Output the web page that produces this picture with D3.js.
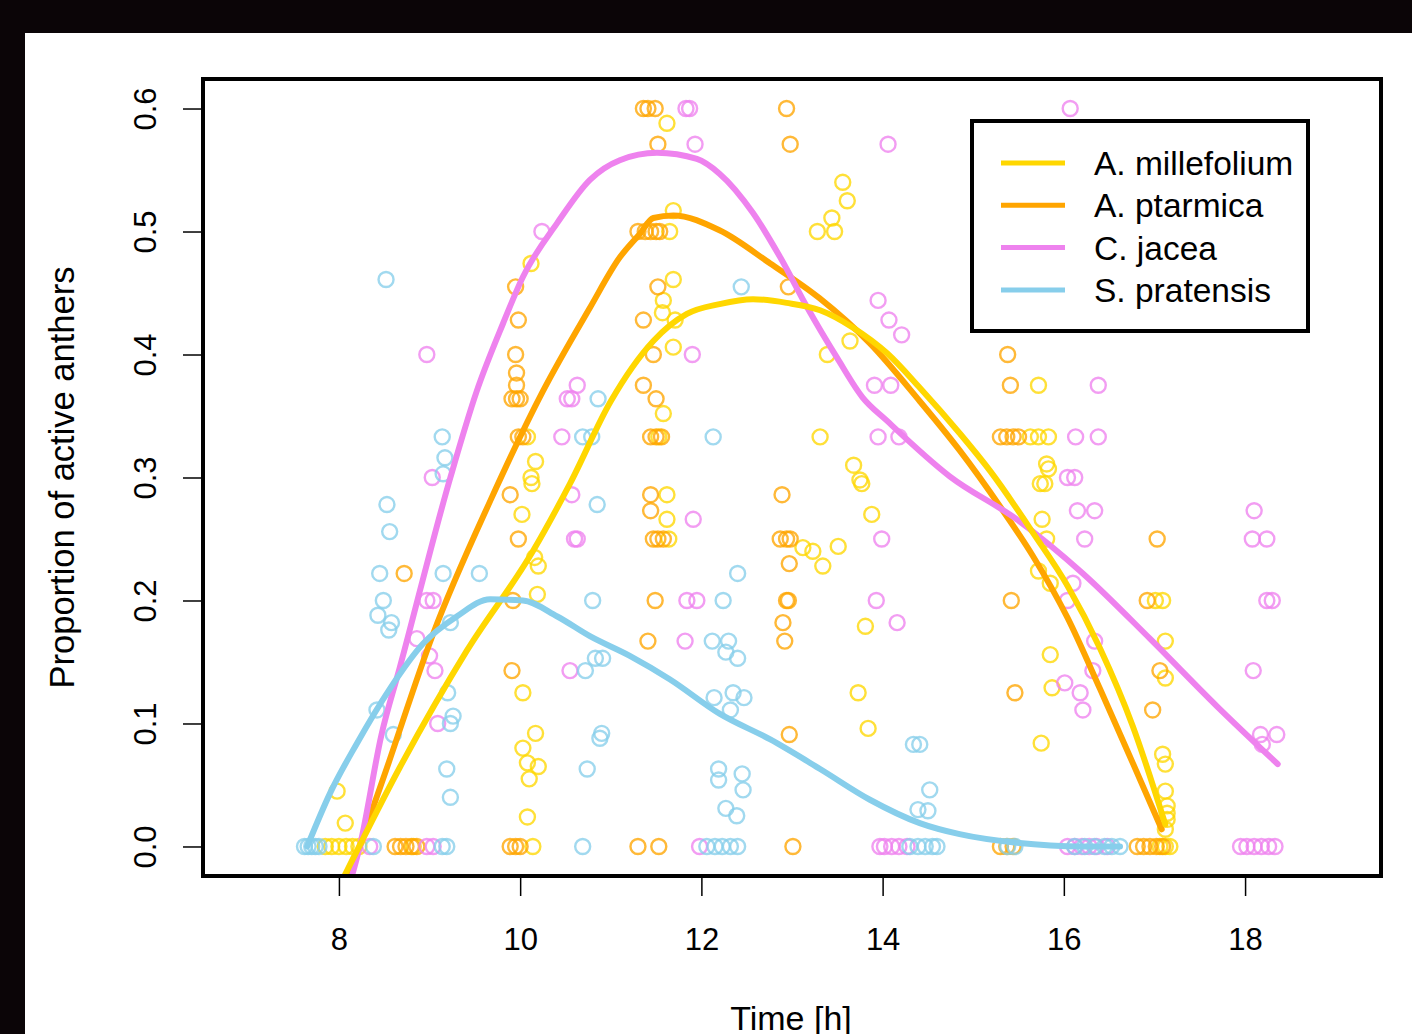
<!DOCTYPE html>
<html>
<head>
<meta charset="utf-8">
<script src="https://cdn.jsdelivr.net/npm/d3@7"></script>
<style>
  html, body { margin: 0; padding: 0; background: #0b0507; }
  svg { display: block; }
  text { font-family: "Liberation Sans", Arial, Helvetica, sans-serif; }
</style>
</head>
<body>
<div id="app"></div>
<script>
// ---- data ----
const species = ["A. millefolium", "A. ptarmica", "C. jacea", "S. pratensis"];
const colors = ["#FFD700", "#FFA500", "#EE82EE", "#87CEEB"];
const xTicks = [8, 10, 12, 14, 16, 18];
const yTicks = [0, 0.1, 0.2, 0.3, 0.4, 0.5, 0.6];

// observed proportions [time, proportion]
const milleFoliumPts = [
  [7.98,0.045],[8.07,0.019],[7.85,0],[7.92,0],[8.00,0],[8.08,0],[8.15,0],[8.22,0],[8.82,0],
  [10.12,0.474],[10.08,0.333],[10.17,0.313],[10.12,0.3],[10.13,0.295],[10.02,0.27],
  [10.16,0.235],[10.20,0.228],[10.19,0.205],[10.03,0.125],[10.17,0.092],[10.03,0.08],
  [10.08,0.068],[10.20,0.065],[10.10,0.055],[10.08,0.024],[10.14,0],
  [11.62,0.588],[11.69,0.517],[11.65,0.5],[11.69,0.461],[11.58,0.444],[11.57,0.434],
  [11.71,0.428],[11.69,0.406],[11.58,0.352],[11.53,0.333],[11.62,0.286],[11.62,0.266],[11.64,0.25],
  [13.56,0.54],[13.61,0.525],[13.44,0.511],[13.28,0.5],[13.47,0.5],[13.64,0.411],[13.39,0.4],
  [13.31,0.333],[13.68,0.31],[13.75,0.298],[13.77,0.295],[13.88,0.27],[13.12,0.243],[13.23,0.24],
  [13.51,0.244],[13.34,0.228],[13.81,0.179],[13.73,0.125],[13.84,0.096],
  [15.72,0.375],[15.63,0.333],[15.72,0.333],[15.83,0.333],[15.81,0.311],[15.83,0.307],
  [15.74,0.295],[15.79,0.295],[15.76,0.266],[15.81,0.25],[15.72,0.224],[15.85,0.214],
  [15.85,0.156],[15.87,0.129],[15.75,0.084],
  [17.01,0.2],[17.09,0.2],[17.12,0.167],[17.12,0.137],[17.09,0.075],[17.12,0.067],[17.12,0.045],
  [17.14,0.033],[17.14,0.027],[17.14,0.022],[17.12,0.014],[17.06,0],[17.12,0],[17.17,0]
];
const ptarmicaPts = [
  [9.95,0.455],[9.98,0.428],[9.95,0.4],[9.96,0.385],[9.96,0.375],[9.91,0.364],[9.96,0.364],
  [10.00,0.364],[9.98,0.333],[10.03,0.333],[9.89,0.286],[9.98,0.25],[8.72,0.222],[9.92,0.2],
  [9.91,0.143],[9.89,0],[9.95,0],[10.00,0],[8.62,0],[8.68,0],[8.74,0],[8.80,0],[8.86,0],
  [11.36,0.6],[11.41,0.6],[11.49,0.6],[11.52,0.571],[12.94,0.6],[12.98,0.571],
  [11.30,0.5],[11.38,0.5],[11.44,0.5],[11.50,0.5],[11.54,0.5],[11.52,0.455],[11.36,0.428],
  [11.47,0.4],[11.36,0.375],[11.50,0.364],[11.44,0.333],[11.50,0.333],[11.56,0.333],
  [11.44,0.286],[11.44,0.273],[11.47,0.25],[11.52,0.25],[11.58,0.25],[11.49,0.2],[11.41,0.167],
  [11.30,0],[11.53,0],
  [12.96,0.455],[12.89,0.286],[12.87,0.25],[12.94,0.25],[12.98,0.25],[12.97,0.23],[12.94,0.2],
  [12.96,0.2],[12.90,0.182],[12.92,0.167],[12.97,0.091],[13.01,0],
  [15.38,0.4],[15.41,0.375],[15.30,0.333],[15.37,0.333],[15.44,0.333],[15.50,0.333],
  [15.42,0.2],[15.46,0.125],[15.30,0],[15.37,0],[15.44,0],
  [17.03,0.25],[16.92,0.2],[17.06,0.143],[16.98,0.111],[16.81,0],[16.88,0],[16.95,0],[17.02,0],[17.09,0]
];
const jaceaPts = [
  [10.24,0.5],[8.97,0.4],[10.63,0.375],[10.52,0.364],[10.57,0.364],[10.46,0.333],[9.03,0.3],
  [10.57,0.286],[10.60,0.25],[10.63,0.25],[8.97,0.2],[9.04,0.2],[8.86,0.169],[9.00,0.155],
  [9.06,0.143],[9.09,0.1],[10.55,0.143],[8.34,0],[8.97,0],[9.04,0],
  [11.83,0.6],[11.87,0.6],[11.93,0.571],[14.06,0.571],[11.90,0.4],[13.95,0.444],[14.07,0.428],
  [14.21,0.416],[13.91,0.375],[14.09,0.375],[13.95,0.333],[14.18,0.333],[11.91,0.266],
  [11.84,0.2],[11.95,0.2],[11.82,0.167],[11.98,0],[13.99,0.25],[13.93,0.2],[14.16,0.182],
  [13.97,0],[14.02,0],[14.10,0],[14.18,0],[14.27,0],
  [16.07,0.6],[16.38,0.375],[16.13,0.333],[16.38,0.333],[16.04,0.3],[16.12,0.3],[16.15,0.273],
  [16.34,0.273],[16.23,0.25],[16.10,0.214],[16.04,0.2],[16.34,0.167],[16.32,0.143],[16.01,0.133],
  [16.18,0.125],[16.21,0.111],[16.04,0],[16.12,0],[16.20,0],[16.28,0],[16.36,0],[16.48,0],
  [18.10,0.273],[18.08,0.25],[18.24,0.25],[18.24,0.2],[18.30,0.2],[18.09,0.143],[18.17,0.091],
  [18.35,0.091],[18.19,0.083],[17.95,0],[18.02,0],[18.10,0],[18.18,0],[18.26,0],[18.33,0]
];
const pratensisPts = [
  [7.62,0],[7.66,0],[7.70,0],[7.74,0],[7.78,0],[8.38,0],[8.52,0.461],[8.53,0.278],[8.56,0.256],
  [8.45,0.222],[8.49,0.2],[8.43,0.188],[8.58,0.182],[8.55,0.176],[8.42,0.111],[8.60,0.091],
  [9.14,0.333],[9.17,0.316],[9.15,0.303],[9.15,0.222],[9.23,0.182],[9.20,0.125],[9.26,0.106],
  [9.23,0.1],[9.19,0.063],[9.23,0.04],[9.14,0],[9.19,0],[9.55,0.222],
  [10.85,0.278],[10.86,0.364],[10.69,0.333],[10.79,0.333],[10.80,0.2],[10.83,0.153],[10.91,0.153],
  [10.72,0.143],[10.90,0.092],[10.88,0.088],[10.74,0.063],[10.69,0],
  [12.44,0.455],[12.13,0.333],[12.40,0.222],[12.24,0.2],[12.12,0.167],[12.30,0.167],[12.27,0.158],
  [12.40,0.153],[12.14,0.121],[12.35,0.125],[12.47,0.121],[12.32,0.111],[12.19,0.063],[12.19,0.054],
  [12.45,0.059],[12.46,0.046],[12.27,0.031],[12.39,0.025],[12.06,0],[12.15,0],[12.23,0],[12.32,0],[12.40,0],
  [14.34,0.083],[14.41,0.083],[14.52,0.046],[14.39,0.03],[14.50,0.029],[14.30,0],[14.39,0],
  [14.47,0],[14.55,0],[14.60,0],[15.38,0],[15.46,0],
  [16.12,0],[16.23,0],[16.34,0],[16.45,0],[16.53,0],[16.62,0]
];

// fitted curves [time, proportion]
const milleFoliumFit = [
  [8.02,-0.03],[8.67,0.064],[9.41,0.159],[10.14,0.24],[10.55,0.295],[11.0,0.362],[11.47,0.411],
  [11.84,0.433],[12.2,0.441],[12.57,0.445],[12.94,0.442],[13.31,0.436],[13.67,0.422],[14.05,0.401],
  [14.41,0.373],[14.85,0.336],[15.19,0.305],[15.66,0.255],[16.04,0.212],[16.4,0.161],[16.76,0.098],
  [17.12,0.018]
];
const ptarmicaFit = [
  [8.10,-0.03],[8.23,0.0],[8.53,0.064],[9.04,0.173],[9.67,0.281],[10.25,0.37],[10.77,0.438],
  [11.1,0.479],[11.32,0.498],[11.47,0.511],[11.69,0.513],[12.2,0.501],[12.76,0.474],[13.3,0.446],
  [13.86,0.409],[14.41,0.362],[14.85,0.322],[15.3,0.276],[15.66,0.236],[16.04,0.186],[16.4,0.128],
  [16.76,0.068],[17.08,0.014]
];
const jaceaFit = [
  [8.12,-0.03],[8.23,0.0],[8.47,0.091],[8.67,0.145],[9.23,0.30],[9.52,0.37],[9.81,0.425],
  [10.03,0.463],[10.41,0.507],[10.77,0.542],[11.1,0.558],[11.51,0.564],[11.95,0.559],[12.2,0.547],
  [12.57,0.515],[12.87,0.479],[13.17,0.438],[13.5,0.397],[13.78,0.365],[14.05,0.346],[14.74,0.301],
  [15.48,0.266],[16.21,0.222],[16.95,0.169],[17.69,0.114],[18.36,0.067]
];
const pratensisFit = [
  [7.65,0.0],[7.9,0.043],[8.2,0.084],[8.56,0.128],[8.93,0.165],[9.3,0.187],[9.67,0.201],
  [10.03,0.2],[10.41,0.187],[10.77,0.171],[11.21,0.155],[11.65,0.136],[12.2,0.108],[12.76,0.087],
  [13.31,0.063],[13.86,0.038],[14.41,0.019],[14.85,0.01],[15.48,0.003],[16.21,0.0],[16.62,0.0]
];

const pointSets = [milleFoliumPts, ptarmicaPts, jaceaPts, pratensisPts];
const fitSets = [milleFoliumFit, ptarmicaFit, jaceaFit, pratensisFit];

// ---- layout ----
const W = 1412, H = 1034;
const box = { left: 203, right: 1381, top: 79, bottom: 876 };

const svg = d3.select("#app").append("svg").attr("width", W).attr("height", H);

svg.append("rect").attr("x", 0).attr("y", 0).attr("width", W).attr("height", H).attr("fill", "#0b0507");
svg.append("rect").attr("x", 25).attr("y", 33).attr("width", W - 25).attr("height", H - 33).attr("fill", "#fff");

const x = d3.scaleLinear().domain([6.5, 19.5]).range([box.left, box.right]);
const y = d3.scaleLinear().domain([-0.024, 0.624]).range([box.bottom, box.top]);

svg.append("clipPath").attr("id", "plotclip")
  .append("rect")
  .attr("x", box.left).attr("y", box.top)
  .attr("width", box.right - box.left).attr("height", box.bottom - box.top);

const plot = svg.append("g").attr("clip-path", "url(#plotclip)");

// points
pointSets.forEach((pts, i) => {
  plot.append("g")
    .selectAll("circle")
    .data(pts)
    .join("circle")
    .attr("cx", d => x(d[0]))
    .attr("cy", d => y(d[1]))
    .attr("r", 7.5)
    .attr("fill", "none")
    .attr("stroke", colors[i])
    .attr("stroke-opacity", 0.78)
    .attr("stroke-width", 2.4);
});

// fitted curves
const line = d3.line()
  .x(d => x(d[0]))
  .y(d => y(d[1]))
  .curve(d3.curveMonotoneX);

[1, 2, 0, 3].forEach(i => {
  plot.append("path")
    .datum(fitSets[i])
    .attr("d", line)
    .attr("fill", "none")
    .attr("stroke", colors[i])
    .attr("stroke-width", 6)
    .attr("stroke-linecap", "round")
    .attr("stroke-linejoin", "round");
});

// axes
const xAxis = svg.append("g")
  .attr("transform", `translate(0,${box.bottom})`)
  .call(d3.axisBottom(x).tickValues(xTicks).tickSize(20).tickFormat(d3.format("d")));
xAxis.select(".domain").remove();
xAxis.selectAll(".tick line").attr("stroke", "#000").attr("stroke-width", 1.5);
xAxis.selectAll(".tick text")
  .attr("y", 74).attr("dy", 0)
  .attr("fill", "#000")
  .style("font-size", "31px");

const yAxis = svg.append("g")
  .attr("transform", `translate(${box.left},0)`)
  .call(d3.axisLeft(y).tickValues(yTicks).tickSize(20).tickFormat(d3.format(".1f")));
yAxis.select(".domain").remove();
yAxis.selectAll(".tick line").attr("stroke", "#000").attr("stroke-width", 1.5);
yAxis.selectAll(".tick text")
  .attr("x", 0).attr("dy", 0)
  .attr("transform", "translate(-47,0) rotate(-90)")
  .attr("text-anchor", "middle")
  .attr("fill", "#000")
  .style("font-size", "31px");

// plot frame
svg.append("rect")
  .attr("x", box.left).attr("y", box.top)
  .attr("width", box.right - box.left).attr("height", box.bottom - box.top)
  .attr("fill", "none").attr("stroke", "#000").attr("stroke-width", 4);

// axis titles
svg.append("text")
  .attr("x", (box.left + box.right) / 2 - 1).attr("y", 1030)
  .attr("text-anchor", "middle")
  .style("font-size", "34px")
  .text("Time [h]");

svg.append("text")
  .attr("transform", `translate(74,${(box.top + box.bottom) / 2}) rotate(-90)`)
  .attr("text-anchor", "middle")
  .style("font-size", "34.5px")
  .text("Proportion of active anthers");

// legend
const legend = svg.append("g");
legend.append("rect")
  .attr("x", 972).attr("y", 121).attr("width", 336).attr("height", 210)
  .attr("fill", "#fff").attr("stroke", "#000").attr("stroke-width", 4);

species.forEach((name, i) => {
  const ly = 163 + i * 42.3;
  legend.append("line")
    .attr("x1", 1001).attr("x2", 1065).attr("y1", ly).attr("y2", ly)
    .attr("stroke", colors[i]).attr("stroke-width", 5);
  legend.append("text")
    .attr("x", 1094).attr("y", ly + 12)
    .style("font-size", "33.5px")
    .text(name);
});
</script>
</body>
</html>
